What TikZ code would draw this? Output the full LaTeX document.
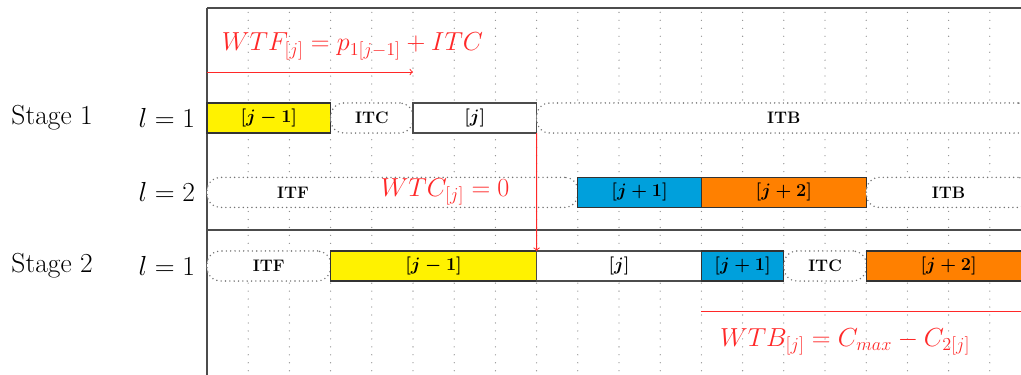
\RequirePackage{fix-cm}
\documentclass[tikz,border=0pt]{standalone}
\usepackage{amsmath}
\usepackage{xcolor}
\usepackage{tikz}
\usetikzlibrary{arrows,positioning,calc}

\definecolor{jobyellow}{RGB}{255,242,0}
\definecolor{jobblue}{RGB}{0,160,220}
\definecolor{joborange}{RGB}{255,128,0}
\definecolor{gapred}{RGB}{255,40,40}

\begin{document}
\begin{tikzpicture}[
    every node/.style={inner sep=0pt, outer sep=0pt},
    job/.style={draw=black!80, line width=0.8pt, minimum height=0.73cm, anchor=west, font=\fontsize{12.5}{14}\selectfont\boldmath},
    idle/.style={draw=black!55, line width=1.1pt, dash pattern=on 0pt off 3pt, line cap=round, rounded corners=9pt, fill=white, minimum height=0.73cm, anchor=west, font=\fontsize{11.5}{13}\selectfont\bfseries},
    gridline/.style={black!45, line width=0.9pt, dash pattern=on 0pt off 5.5pt, line cap=round},
    axis/.style={black!70, line width=1pt},
    rowlabel/.style={font=\fontsize{19}{23}\selectfont},
    gap/.style={gapred, line width=0.7pt},
    gaplabel/.style={text=gapred, font=\fontsize{18}{22}\selectfont},
]
\useasboundingbox (-5.024,-9.078) rectangle (19.757,0);
\clip (-5.024,-9.078) rectangle (19.757,0);

% Grid and axes
\foreach \k in {1,...,19}
    \draw[gridline] (\k,-0.3) -- (\k,-9.1);
\draw[axis] (0,-0.194) -- (20,-0.194);
\draw[axis] (0,-0.194) -- (0,-9.1);
\draw[axis] (0,-5.583) -- (20,-5.583);

% Row labels
\node[rowlabel] (st1) at (-3.76,-2.864) {Stage 1};
\node[rowlabel, anchor=east] (m11) at (-0.29,-2.864) {$l=1$};
\node[rowlabel, anchor=east] (m12) at (-0.29,-4.67) {$l=2$};
\node[rowlabel] (st2) at (-3.76,-6.456) {Stage 2};
\node[rowlabel, anchor=east] (m21) at (-0.29,-6.456) {$l=1$};

% Stage 1, l=1
\node[job, fill=jobyellow, minimum width=3cm] (s1prev) at (0,-2.864) {$[j-1]$};
\node[idle, minimum width=2cm] (s1itc) at (3,-2.864) {ITC};
\node[job, fill=white, draw=black!70, minimum width=3cm] (s1j) at (5,-2.864) {$[j]$};
\node[idle, minimum width=12cm] (s1itb) at (8,-2.864) {ITB};

% Stage 1, l=2
\node[idle, minimum width=9cm] (s2itf) at (0,-4.67) {};
\node[font=\fontsize{11.5}{13}\selectfont\bfseries] (s2itftxt) at (2.09,-4.67) {ITF};
\node[job, fill=jobblue, minimum width=3cm] (s2next) at (9,-4.67) {$[j+1]$};
\node[job, fill=joborange, minimum width=4cm] (s2nnext) at (12,-4.67) {$[j+2]$};
\node[idle, minimum width=4cm] (s2itb) at (16,-4.67) {ITB};

% Stage 2, l=1
\node[idle, minimum width=3cm] (s3itf) at (0,-6.456) {ITF};
\node[job, fill=jobyellow, minimum width=5cm] (s3prev) at (3,-6.456) {$[j-1]$};
\node[job, fill=white, draw=black!70, minimum width=4cm] (s3j) at (8,-6.456) {$[j]$};
\node[job, fill=jobblue, minimum width=2cm] (s3next) at (12,-6.456) {$[j+1]$};
\node[idle, minimum width=2cm] (s3itc) at (14,-6.456) {ITC};
\node[job, fill=joborange, minimum width=4cm] (s3nnext) at (16,-6.456) {$[j+2]$};

% Waiting times
\coordinate (wtfA) at (0,-1.748);
\coordinate (wtfB) at (5,-1.748);
\draw[gap, ->] (wtfA) -- (wtfB);
\node[gaplabel, anchor=west] (wtf) at (0.364,-1.12) {$WTF_{[j]}=p_{1[j-1]}+ITC$};

\draw[gap, ->] (s1j.south east) -- (s3prev.north east);
\node[gaplabel] (wtc) at (5.78,-4.66) {$WTC_{[j]}=0$};

\coordinate (wtbA) at (12,-7.57);
\coordinate (wtbB) at (20,-7.57);
\draw[gap] (wtbA) -- (wtbB);
\node[gaplabel] (wtb) at (15.49,-8.3) {$WTB_{[j]}=C_{max}-C_{2[j]}$};

\end{tikzpicture}
\end{document}
